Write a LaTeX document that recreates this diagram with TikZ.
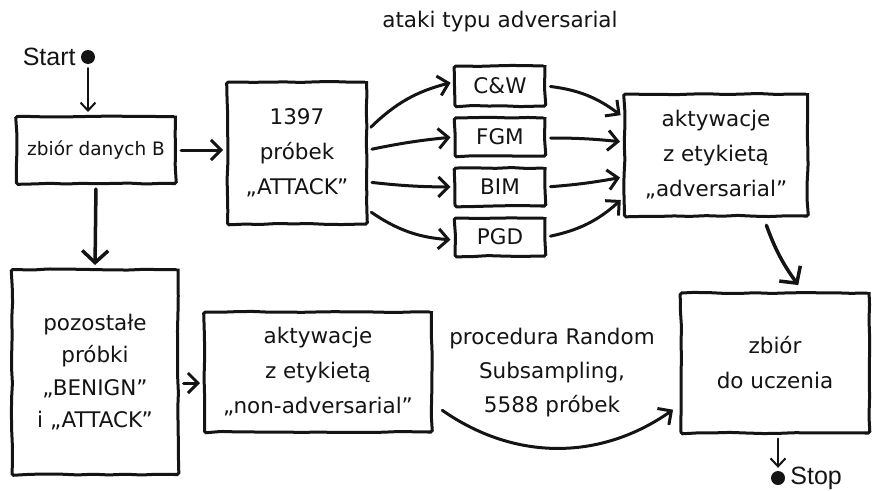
\documentclass[tikz,border=0pt]{standalone}
\usepackage{fontspec}
\setmainfont{DejaVu Sans}
\newfontfamily\arialfont{Liberation Sans}
\usetikzlibrary{
    arrows.meta,
    positioning,
    calc,
    decorations.pathmorphing
}
\definecolor{inkblack}{HTML}{141414}

\begin{document}
\begin{tikzpicture}[
    x=1pt, y=-1pt,
    every node/.style={text=inkblack},
    sketchbox/.style={
        rectangle,
        draw=inkblack,
        line width=3pt,
        rounded corners=1.5pt,
        decorate,
        decoration={random steps, segment length=16pt, amplitude=0.6pt},
        fill=white,
        inner sep=0pt,
        align=center,
        font=\fontsize{21.5}{35}\selectfont
    },
    caption/.style={
        align=center,
        font=\fontsize{21.5}{34}\selectfont
    },
    startstop/.style={
        font=\arialfont\fontsize{25}{26}\selectfont,
        inner sep=0pt
    },
    dot/.style={
        circle,
        fill=inkblack,
        minimum size=14pt,
        inner sep=0pt
    },
    arrow/.style={
        -{Straight Barb[length=10pt,width=20pt]},
        line width=3pt,
        draw=inkblack,
        line cap=round,
        shorten <=4pt,
        shorten >=3pt
    },
    bigarrow/.style={
        arrow,
        -{Straight Barb[length=12pt,width=26pt]},
        line width=3.5pt
    },
    thinarrow/.style={
        arrow,
        -{Straight Barb[length=8pt,width=15pt]},
        line width=2pt
    }
]
\pgfmathsetseed{11}
\useasboundingbox (0,0) rectangle (872,490);

% =====================================================
% Top row
% =====================================================

\node[caption] (title) at (500,22) {ataki typu adversarial};

\node[dot] (startdot) at (88,57) {};
\node[startstop, left=5pt of startdot] (start) {Start};

\node[sketchbox, minimum width=159, minimum height=67,
      font=\fontsize{18.5}{22}\selectfont] (data) at (96,150)
{zbiór danych B};

\node[sketchbox, minimum width=139, minimum height=142] (attack) at (297,153)
{1397\\próbek\\„ATTACK”};

\node[sketchbox, minimum width=90, minimum height=40] (cw) at (500,86) {C\&W};
\node[sketchbox, minimum width=90, minimum height=38] (fgm) at (500,137) {FGM};
\node[sketchbox, minimum width=90, minimum height=38] (bim) at (500,187) {BIM};
\node[sketchbox, minimum width=90, minimum height=38] (pgd) at (500,237) {PGD};

\node[sketchbox, minimum width=183, minimum height=122] (adv) at (716,155)
{aktywacje\\z etykietą\\„adversarial”};

% =====================================================
% Bottom row
% =====================================================

\node[sketchbox, minimum width=166, minimum height=205,
      font=\fontsize{21.5}{32.5}\selectfont] (rest) at (95,372)
{pozostałe\\próbki\\„BENIGN”\\i „ATTACK”};

\node[sketchbox, minimum width=227, minimum height=120] (nonadv) at (318,372)
{aktywacje\\z etykietą\\„non-adversarial”};

\node[caption] (sampling) at (552,373)
{procedura Random\\Subsampling,\\5588 próbek};

\node[sketchbox, minimum width=188, minimum height=140] (train) at (775,363)
{zbiór\\do uczenia};

\node[dot] (stopdot) at (778,478) {};
\node[startstop, right=5pt of stopdot] (stop) {Stop};

% =====================================================
% Arrows
% =====================================================

\draw[thinarrow] (startdot) -- (startdot |- data.north);
\draw[arrow] (data.east) -- (data.east -| attack.west);
\draw[bigarrow] (data.south) -- (rest.north);

\draw[arrow] ($(attack.east)+(0,-23)$) to[bend left=15] ($(cw.west)+(0,-4)$);
\draw[arrow] ($(attack.east)+(0,-3)$) to[bend left=3] (fgm.west);
\draw[arrow] ($(attack.east)+(0,29)$) to[bend right=3] (bim.west);
\draw[arrow] ($(attack.east)+(0,57)$) to[bend right=15] ($(pgd.west)+(0,3)$);

\draw[arrow] (cw.east) to[bend left=15] ($(adv.west)+(0,-38)$);
\draw[arrow] ($(fgm.east)+(0,1)$) to[bend left=3] ($(adv.west)+(0,-13)$);
\draw[arrow] (bim.east) to[bend right=3] ($(adv.west)+(0,22)$);
\draw[arrow] (pgd.east) to[bend right=15] ($(adv.west)+(0,43)$);

\draw[bigarrow] ($(adv.south east)+(-44,4)$) to[bend right=8] ($(train.north)+(25,-4)$);

\draw[arrow] ($(rest.east)+(0,11)$) -- ($(nonadv.west)+(0,11)$);
\draw[arrow] ($(nonadv.east)+(6,36)$) to[bend right=35] ($(train.west)+(-4,45)$);

\draw[thinarrow] (stopdot |- train.south) -- (stopdot.north);

\end{tikzpicture}
\end{document}
